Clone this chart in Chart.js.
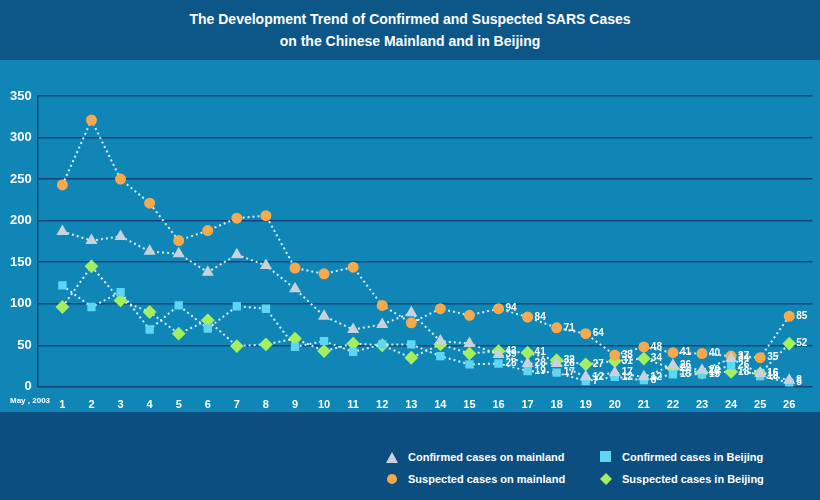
<!DOCTYPE html>
<html><head><meta charset="utf-8">
<script src="https://cdn.jsdelivr.net/npm/chart.js@4"></script>
<style>
body{margin:0;width:820px;height:500px;background:#0f86b5;font-family:"Liberation Sans",Arial,sans-serif;overflow:hidden}
#head{position:absolute;left:0;top:0;width:820px;height:60px;background:#0d5788;color:#fff;font-weight:bold;font-size:14px;text-align:center;line-height:22px;padding-top:8px;box-sizing:border-box}
#wrap{position:absolute;left:0;top:60px;width:820px;height:356px}
#foot{position:absolute;left:0;top:412px;width:820px;height:88px;background:#0d4e80;color:#fff;font-weight:bold;font-size:11px}
.lg{position:absolute;display:flex;align-items:center}
.lg span{margin-left:10px}
</style></head><body>
<div id="head">The Development Trend of Confirmed and Suspected SARS Cases<br>on the Chinese Mainland and in Beijing</div>
<div id="wrap"><canvas id="c"></canvas></div>
<div id="foot">
 <div class="lg" style="left:386px;top:39px"><svg width="12" height="11"><polygon points="6,0 12,11 0,11" fill="#c9d1dd"/></svg><span>Confirmed cases on mainland</span></div>
 <div class="lg" style="left:386px;top:61px"><svg width="12" height="12"><circle cx="6" cy="6" r="5" fill="#f7a94b"/></svg><span>Suspected cases on mainland</span></div>
 <div class="lg" style="left:600px;top:39px"><svg width="12" height="12"><rect width="11" height="11" fill="#5dd6f4"/></svg><span>Confirmed cases in Beijing</span></div>
 <div class="lg" style="left:600px;top:61px"><svg width="12" height="12"><polygon points="6,0 12,6 6,12 0,6" fill="#a5ee5f"/></svg><span>Suspected cases in Beijing</span></div>
</div>
<script>
var days = [1,2,3,4,5,6,7,8,9,10,11,12,13,14,15,16,17,18,19,20,21,22,23,24,25,26];
var confirmedMainland = [187,176,181,163,160,138,159,146,118,85,69,75,89,55,52,39,28,28,12,17,12,26,20,34,16,8];
var suspectedMainland = [243,321,250,221,176,188,203,206,143,136,144,98,77,94,86,94,84,71,64,38,48,41,40,37,35,85];
var confirmedBeijing = [122,96,114,69,98,70,97,94,48,55,42,51,51,37,27,28,19,17,7,12,8,15,15,26,13,5];
var suspectedBeijing = [96,145,104,90,64,80,49,51,58,43,52,50,35,51,40,43,41,32,27,31,34,22,17,18,16,52];
var yTicks = [0,50,100,150,200,250,300,350];
var labelFrom = 16; // values are printed from this day on

function pts(vals){ return days.map(function(d,i){ return {x:d, y:vals[i]}; }); }
function ds(vals, style, color, r){
  return {data:pts(vals), pointStyle:style, backgroundColor:color, borderColor:'rgba(255,255,255,0.85)',
    pointBorderColor:color, pointRadius:r, borderWidth:2, borderDash:[2,3], tension:0};
}

var valueLabels = {
  id:'valueLabels',
  afterDatasetsDraw:function(chart){
    var ctx = chart.ctx;
    ctx.save();
    ctx.fillStyle='#fff'; ctx.font='bold 10px "Liberation Sans", Arial';
    ctx.textBaseline='middle';
    chart.data.datasets.forEach(function(d,di){
      chart.getDatasetMeta(di).data.forEach(function(p,i){
        if(days[i] >= labelFrom) ctx.fillText(d.data[i].y, p.x+7, p.y);
      });
    });
    var xs = chart.scales.x;
    ctx.font='bold 8px "Liberation Sans", Arial';
    ctx.fillText('May , 2003', 10, xs.top+14);
    ctx.restore();
  }
};

new Chart(document.getElementById('c'), {
  type:'line',
  data:{datasets:[
    ds(confirmedMainland,'triangle','#c9d1dd',5),
    ds(suspectedMainland,'circle','#f7a94b',4.5),
    ds(confirmedBeijing,'rect','#5dd6f4',4.5),
    ds(suspectedBeijing,'rectRot','#a5ee5f',5.5)
  ]},
  options:{
    responsive:true, maintainAspectRatio:false, animation:false,
    layout:{padding:{top:36,right:0,left:4}},
    plugins:{legend:{display:false}, tooltip:{enabled:false}},
    scales:{
      x:{type:'linear', min:0.15, max:26.8,
        grid:{display:false}, border:{display:false},
        afterBuildTicks:function(s){ s.ticks = days.map(function(d){return {value:d};}); },
        ticks:{color:'#fff', font:{weight:'bold', size:11}, padding:4, autoSkip:false}},
      y:{min:0, max:350,
        afterBuildTicks:function(s){ s.ticks = yTicks.map(function(v){return {value:v};}); },
        grid:{color:'#16427a', lineWidth:1.5, drawTicks:false},
        border:{color:'#16427a', width:1.5},
        ticks:{color:'#fff', font:{weight:'bold', size:13}, padding:6}}
    }
  },
  plugins:[valueLabels]
});
</script>
</body></html>
